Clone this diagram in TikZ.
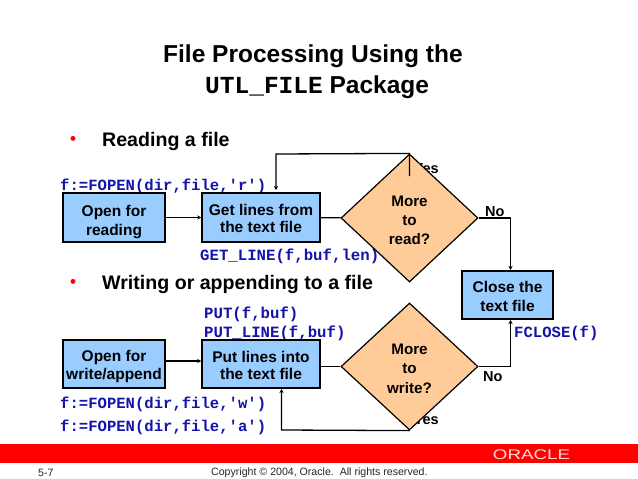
\documentclass[tikz,border=0pt]{standalone}
\usepackage{fontspec}
\setmainfont{Liberation Sans}
\setmonofont{Liberation Mono}
\usetikzlibrary{arrows.meta,positioning,calc,shapes.geometric}
\definecolor{boxblue}{RGB}{153,204,255}
\definecolor{boxorange}{RGB}{255,204,153}
\definecolor{codeblue}{RGB}{20,20,170}
\newcommand{\psize}[1]{\fontsize{#1}{#1}\selectfont}
\newcommand{\lowered}[1]{\rule{0pt}{#1pt}}
\tikzset{
    procbox/.style={draw=black,line width=1.5pt,fill=boxblue,inner sep=0pt,align=center,
        font=\fontsize{15.5}{17}\selectfont\bfseries},
    decide/.style={diamond,draw=black,line width=1.2pt,fill=boxorange,inner sep=0pt,align=center,
        minimum width=137pt,minimum height=128pt,font=\fontsize{15.2}{19.3}\selectfont\bfseries},
    code/.style={anchor=west,inner sep=0pt,text=codeblue,font=\psize{15.6}\ttfamily\bfseries},
    codewide/.style={code,font=\psize{15.7}\ttfamily\bfseries},
    heading/.style={anchor=west,inner sep=0pt,font=\psize{19.6}\bfseries},
    answer/.style={inner sep=0pt,font=\psize{14.5}\bfseries},
    bulletdot/.style={inner sep=0pt,text=red,font=\psize{17}\bfseries},
    flow/.style={->,line width=1.3pt},
    plainflow/.style={line width=1.3pt},
}
\begin{document}
\begin{tikzpicture}[>={Stealth[length=4pt,width=4pt]},x=1pt,y=-1pt]
    \useasboundingbox (0,0) rectangle (638,479);
    \fill[white] (0,0) rectangle (638,479);

    % Title
    \node[anchor=west,inner sep=0pt,font=\psize{24.5}\bfseries] (titleone) at (163,56) {File Processing Using the};
    \node[anchor=west,inner sep=0pt,font=\psize{24.5}\bfseries] (titletwo) at (205,87) {{\ttfamily UTL\_FILE} Package};

    % Reading a file
    \node[bulletdot] (bulletread) at (73,140.5) {•};
    \node[heading] (headread) at (102,141) {Reading a file};
    \node[answer,anchor=east] (yesread) at (439,169) {Yes};
    \node[code] (fopenr) at (60,186) {f:=FOPEN(dir,file,'r')};
    \node[codewide] (getline) at (200,256) {GET\_LINE(f,buf,len)};

    \node[procbox,minimum width=102pt,minimum height=49pt] (openread) at (114,217.5) {\lowered{20}Open for\\[1.5pt]reading};
    \node[procbox,minimum width=118pt,minimum height=49pt] (getlines) at (261,217.5) {\lowered{13.5}Get lines from\\the text file};
    \node[decide] (moreread) at (409.5,218) {\lowered{15}More\\to\\read?};
    \coordinate (readtick) at (409.5,176);
    \coordinate (readback) at (276,190);

    \draw[flow] (openread) -- (getlines);
    \draw[plainflow] (getlines) -- (moreread);
    \draw[flow] (readtick) -- (moreread.north) -- (276,154) -- (readback);

    % Writing or appending
    \node[bulletdot] (bulletwrite) at (73,283.5) {•};
    \node[heading] (headwrite) at (102,284) {Writing or appending to a file};
    \node[answer,anchor=east] (yeswrite) at (439,420) {Yes};
    \node[codewide] (putone) at (204,314) {PUT(f,buf)};
    \node[codewide] (puttwo) at (204,333) {PUT\_LINE(f,buf)};
    \node[code] (fopenw) at (60,404) {f:=FOPEN(dir,file,'w')};
    \node[code] (fopena) at (60,427) {f:=FOPEN(dir,file,'a')};

    \node[procbox,minimum width=102pt,minimum height=48pt] (openwrite) at (114,364) {\lowered{16}Open for\\[1.5pt]write/append};
    \node[procbox,minimum width=118pt,minimum height=48pt] (putlines) at (261,364) {\lowered{13.5}Put lines into\\the text file};
    \node[decide,minimum height=127pt] (morewrite) at (409.5,366.5) {\lowered{15}More\\to\\write?};
    \coordinate (writeback) at (281.5,389);

    \draw[flow] ($(openwrite.east)+(0,-3)$) -- ($(putlines.west)+(0,-3)$);
    \draw[plainflow] (putlines.east |- morewrite) -- (morewrite);
    \draw[flow] (morewrite.south) -- (281.5,430) -- (writeback);

    % Close
    \node[procbox,minimum width=91pt,minimum height=48pt] (closefile) at (507.5,295) {\lowered{15}Close the\\[2pt]text file};
    \node[code] (fclose) at (514,333.5) {FCLOSE(f)};
    \node[answer,anchor=west] (noread) at (485,212) {No};
    \node[answer,anchor=west] (nowrite) at (483,377) {No};
    \coordinate (readin) at (510.5,270);
    \coordinate (writein) at (510.5,320);
    \draw[flow] (moreread.east) -- (510.5,218) -- (readin);
    \draw[flow] (morewrite.east) -- (510.5,366.5) -- (writein);

    % Footer
    \fill[red] (0,444) rectangle (638,463);
    \node[inner sep=0pt,text=white!85!red,font=\psize{14}] (logo) at (531.5,455) {\scalebox{1.34}[1]{ORACLE}};
    \node[anchor=west,inner sep=0pt,font=\psize{10.6},text=black!85] (pagenum) at (38,473) {5-7};
    \node[anchor=west,inner sep=0pt,font=\psize{10.6},text=black!85] (copyright) at (211,473) {Copyright © 2004, Oracle.\ \ All rights reserved.};
\end{tikzpicture}
\end{document}
